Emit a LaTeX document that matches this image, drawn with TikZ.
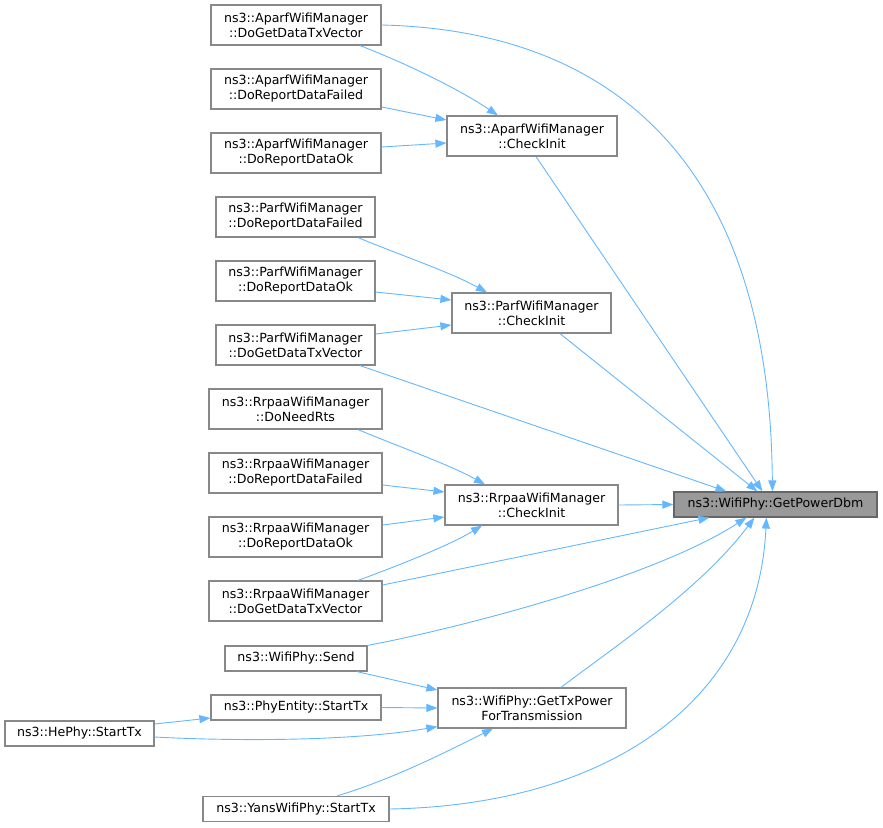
\documentclass[tikz,border=0pt]{standalone}
\usepackage{fontspec}
\setmainfont{DejaVu Sans}
\usetikzlibrary{arrows.meta,calc}
\definecolor{edgeblue}{HTML}{63B8FF}
\definecolor{boxgray}{HTML}{999999}
\definecolor{boxline}{HTML}{888888}
\definecolor{darkgray}{HTML}{666666}
\begin{document}
\begin{tikzpicture}[x=1pt,y=-1pt,
  fn/.style={draw=boxline,fill=white,line width=1.2pt,inner sep=0pt,align=center,
    font=\fontsize{12.6}{15}\selectfont,minimum height=40pt},
  fn1/.style={fn,minimum height=25pt},
  hl/.style={fn1,fill=boxgray,draw=darkgray},
  call/.style={draw=edgeblue,line width=0.9pt,-{Triangle[length=11pt,width=8pt]}}]
\useasboundingbox (0,0) rectangle (883,827);
% nodes
\node[fn,minimum width=170pt] (A1) at (296,25) {ns3::AparfWifiManager\\::DoGetDataTxVector};
\node[fn,minimum width=170pt] (A2) at (296,89) {ns3::AparfWifiManager\\::DoReportDataFailed};
\node[fn,minimum width=170pt] (A3) at (296,153) {ns3::AparfWifiManager\\::DoReportDataOk};
\node[fn,minimum width=170pt] (AC) at (532,136) {ns3::AparfWifiManager\\::CheckInit};
\node[fn,minimum width=159pt] (P1) at (295.5,217) {ns3::ParfWifiManager\\::DoReportDataFailed};
\node[fn,minimum width=159pt] (P2) at (295.5,281) {ns3::ParfWifiManager\\::DoReportDataOk};
\node[fn,minimum width=159pt] (P3) at (295.5,345) {ns3::ParfWifiManager\\::DoGetDataTxVector};
\node[fn,minimum width=159pt] (PC) at (531.5,313) {ns3::ParfWifiManager\\::CheckInit};
\node[fn,minimum width=173pt] (R1) at (295.5,409) {ns3::RrpaaWifiManager\\::DoNeedRts};
\node[fn,minimum width=173pt] (R2) at (295.5,473) {ns3::RrpaaWifiManager\\::DoReportDataFailed};
\node[fn,minimum width=173pt] (R3) at (295.5,537) {ns3::RrpaaWifiManager\\::DoReportDataOk};
\node[fn,minimum width=173pt] (R4) at (295.5,601) {ns3::RrpaaWifiManager\\::DoGetDataTxVector};
\node[fn,minimum width=173pt] (RC) at (531.5,505) {ns3::RrpaaWifiManager\\::CheckInit};
\node[hl,minimum width=203pt] (G) at (775.5,504.5) {ns3::WifiPhy::GetPowerDbm};
\node[fn1,minimum width=142pt] (S) at (296,658.5) {ns3::WifiPhy::Send};
\node[fn1,minimum width=170pt] (PE) at (296,707.5) {ns3::PhyEntity::StartTx};
\node[fn1,minimum width=149pt] (HE) at (79.5,733.5) {ns3::HePhy::StartTx};
\node[fn,minimum width=188pt] (GT) at (532,708) {ns3::WifiPhy::GetTxPower\\ForTransmission};
\node[fn1,minimum width=186pt] (Y) at (296,809) {ns3::YansWifiPhy::StartTx};
% edges into GetPowerDbm
\draw[call] (A1.east) .. controls (600,30) and (770,150) .. ([xshift=99pt]G.north west);
\draw[call] ([xshift=4pt]AC.south) -- ([xshift=89pt]G.north west);
\draw[call] ([xshift=28.5pt]PC.south) -- ([xshift=84pt]G.north west);
\draw[call] ([xshift=64.5pt]P3.south) -- ([xshift=53pt]G.north west);
\draw[call] (RC.east) -- (G.west);
\draw[call] ([yshift=16pt]R4.east) -- ([xshift=36pt]G.south west);
\draw[call] (S.north east) .. controls (450,630) and (650,580) .. ([xshift=73pt]G.south west);
\draw[call] ([xshift=29pt]GT.north) .. controls (610,650) and (700,590) .. ([xshift=81pt]G.south west);
\draw[call] (Y.east) .. controls (610,805) and (758,700) .. ([xshift=93pt]G.south west);
% edges into Aparf CheckInit
\draw[call] ([xshift=64pt]A1.south) .. controls (410,65) and (460,90) .. ([xshift=-34pt]AC.north);
\draw[call] ([yshift=-18pt]A2.east) -- ([yshift=16pt]AC.west);
\draw[call] ([yshift=6pt]A3.east) -- ([yshift=-7pt]AC.west);
% edges into Parf CheckInit
\draw[call] ([xshift=62.5pt]P1.south) .. controls (400,255) and (450,272) .. ([xshift=-44.5pt]PC.north);
\draw[call] ([yshift=-11pt]P2.east) -- ([yshift=13pt]PC.west);
\draw[call] ([yshift=11pt]P3.east) -- ([yshift=-12pt]PC.west);
% edges into Rrpaa CheckInit
\draw[call] ([xshift=62.5pt]R1.south) .. controls (400,447) and (450,465) .. ([xshift=-46.5pt]RC.north);
\draw[call] ([yshift=-12pt]R2.east) -- ([yshift=13pt]RC.west);
\draw[call] ([yshift=12pt]R3.east) -- ([yshift=-12pt]RC.west);
\draw[call] ([xshift=62.5pt]R4.north) .. controls (400,565) and (450,545) .. ([xshift=-49.5pt]RC.south);
% edges into GetTxPowerForTransmission
\draw[call] ([xshift=61pt]S.south) -- ([yshift=18pt]GT.west);
\draw[call] (PE.east) -- (GT.west);
\draw[call] ([yshift=-3.5pt]HE.east) .. controls (250,742) and (360,740) .. ([yshift=2pt]GT.south west);
\draw[call] ([yshift=9.5pt]HE.east) -- ([yshift=-10.5pt]PE.west);
\draw[call] ([xshift=41pt]Y.north) .. controls (390,780) and (440,755) .. ([xshift=-39pt]GT.south);
\end{tikzpicture}
\end{document}
